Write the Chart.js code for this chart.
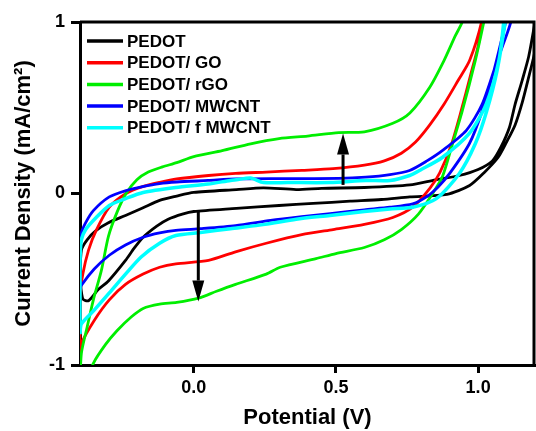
<!DOCTYPE html>
<html>
<head>
<meta charset="utf-8">
<script src="https://cdn.jsdelivr.net/npm/chart.js@4.4.1/dist/chart.umd.min.js"></script>
<style>
  html, body { margin: 0; padding: 0; background: #fff; }
  #wrap { width: 536px; height: 431px; }
</style>
</head>
<body>
<div id="wrap"><canvas id="cvChart" width="536" height="431"></canvas></div>
<script>
// CV loops, [potential (V), current density (mA/cm2)]
// each loop: cathodic branch left->right, then anodic branch back right->left
const pedot = [
  [-0.40,-0.50],[-0.39,-0.615],[-0.37,-0.625],[-0.336,-0.56],[-0.30,-0.51],[-0.24,-0.39],[-0.21,-0.32],
  [-0.178,-0.255],[-0.13,-0.19],[-0.09,-0.15],[-0.04,-0.12],[0.0,-0.105],[0.15,-0.087],[0.30,-0.07],
  [0.42,-0.058],[0.55,-0.045],[0.66,-0.035],[0.76,-0.02],[0.89,-0.005],[0.97,0.047],[1.02,0.12],
  [1.07,0.21],[1.10,0.30],[1.13,0.40],[1.155,0.53],[1.175,0.66],[1.196,0.80],[1.22,1.0],[1.24,1.2],
  [1.22,1.2],[1.20,1.0],[1.178,0.80],[1.155,0.66],[1.13,0.52],[1.11,0.385],[1.08,0.27],[1.05,0.19],
  [1.0,0.14],[0.934,0.105],[0.85,0.08],[0.76,0.05],[0.60,0.035],[0.45,0.03],[0.36,0.023],[0.245,0.033],
  [0.15,0.023],[0.0,0.006],[-0.06,-0.015],[-0.12,-0.04],[-0.18,-0.085],[-0.24,-0.128],[-0.30,-0.17],
  [-0.343,-0.215],[-0.375,-0.27],[-0.395,-0.33],[-0.40,-0.50]
];
const pedotGO = [
  [-0.40,-0.95],[-0.395,-0.875],[-0.35,-0.74],[-0.297,-0.62],[-0.24,-0.53],[-0.178,-0.47],[-0.12,-0.43],
  [-0.063,-0.41],[0.052,-0.39],[0.147,-0.34],[0.255,-0.29],[0.38,-0.24],[0.49,-0.21],[0.60,-0.18],
  [0.70,-0.14],[0.77,-0.08],[0.83,0.03],[0.865,0.12],[0.905,0.28],[0.94,0.48],[0.975,0.70],[1.0,0.86],
  [1.015,1.0],[1.03,1.2],
  [1.012,1.0],[0.97,0.775],[0.93,0.66],[0.88,0.52],[0.83,0.40],[0.78,0.30],[0.73,0.235],[0.67,0.19],
  [0.60,0.165],[0.49,0.145],[0.38,0.135],[0.255,0.125],[0.147,0.117],[0.052,0.105],[-0.06,0.085],
  [-0.12,0.065],[-0.18,0.04],[-0.238,0.0],[-0.297,-0.08],[-0.343,-0.215],[-0.37,-0.33],[-0.39,-0.47],
  [-0.40,-0.60],[-0.40,-0.95]
];
const pedotRGO = [
  [-0.40,-1.3],[-0.37,-1.08],[-0.353,-0.99],[-0.31,-0.88],[-0.27,-0.80],[-0.22,-0.72],[-0.178,-0.67],
  [-0.12,-0.645],[-0.06,-0.635],[0.017,-0.61],[0.08,-0.57],[0.147,-0.53],[0.255,-0.47],[0.304,-0.43],
  [0.43,-0.38],[0.50,-0.35],[0.60,-0.315],[0.67,-0.27],[0.73,-0.21],[0.79,-0.12],
  [0.84,0.0],[0.875,0.10],[0.91,0.29],[0.944,0.48],[0.99,0.775],[1.02,1.0],[1.05,1.25],
  [1.0,1.3],[0.944,1.0],[0.92,0.92],[0.88,0.775],[0.83,0.62],[0.76,0.47],[0.70,0.41],[0.60,0.36],
  [0.51,0.355],[0.40,0.335],[0.30,0.32],[0.20,0.29],[0.10,0.25],[0.0,0.215],[-0.06,0.18],
  [-0.11,0.155],[-0.16,0.125],[-0.20,0.08],[-0.238,0.0],[-0.27,-0.11],[-0.30,-0.25],[-0.325,-0.45],
  [-0.353,-0.62],[-0.375,-0.78],[-0.395,-0.93],[-0.40,-1.1]
];
const pedotMWCNT = [
  [-0.40,-0.56],[-0.395,-0.535],[-0.35,-0.44],[-0.297,-0.36],[-0.24,-0.30],[-0.178,-0.255],[-0.12,-0.23],
  [-0.063,-0.215],[0.024,-0.205],[0.147,-0.187],[0.27,-0.157],[0.38,-0.135],[0.48,-0.117],[0.60,-0.095],
  [0.69,-0.08],[0.77,-0.06],[0.818,-0.02],[0.86,0.04],[0.90,0.117],[0.969,0.29],[1.014,0.48],
  [1.056,0.72],[1.09,0.95],[1.11,1.1],[1.13,1.25],
  [1.14,1.25],[1.115,1.0],[1.067,0.775],[1.014,0.52],[0.958,0.367],[0.874,0.25],[0.82,0.19],
  [0.759,0.134],[0.69,0.11],[0.605,0.095],[0.51,0.088],[0.30,0.087],[0.15,0.085],[0.05,0.076],
  [-0.06,0.067],[-0.12,0.058],[-0.18,0.04],[-0.238,0.017],[-0.297,-0.02],[-0.353,-0.10],[-0.38,-0.17],
  [-0.395,-0.23],[-0.40,-0.35],[-0.40,-0.56]
];
const pedotFMWCNT = [
  [-0.40,-0.82],[-0.395,-0.76],[-0.35,-0.68],[-0.297,-0.58],[-0.24,-0.47],[-0.185,-0.37],[-0.12,-0.29],
  [-0.063,-0.245],[0.024,-0.227],[0.129,-0.205],[0.25,-0.18],[0.36,-0.15],[0.479,-0.128],[0.60,-0.105],
  [0.69,-0.09],[0.77,-0.08],[0.853,-0.03],[0.934,0.117],[0.99,0.29],[1.03,0.48],[1.067,0.72],
  [1.095,1.0],[1.11,1.2],
  [1.10,1.2],[1.09,1.0],[1.073,0.775],[1.028,0.52],[0.969,0.35],[0.874,0.21],[0.80,0.14],[0.759,0.105],
  [0.69,0.076],[0.605,0.076],[0.48,0.064],[0.33,0.064],[0.245,0.064],[0.20,0.09],[0.15,0.08],
  [0.129,0.076],[0.05,0.055],[-0.063,0.035],[-0.178,0.006],[-0.24,-0.03],[-0.297,-0.07],[-0.343,-0.14],
  [-0.38,-0.21],[-0.395,-0.27],[-0.40,-0.40],[-0.40,-0.82]
];

const seriesNames = ["PEDOT", "PEDOT/ GO", "PEDOT/ rGO", "PEDOT/ MWCNT", "PEDOT/ f MWCNT"];
const seriesData = [pedot, pedotGO, pedotRGO, pedotMWCNT, pedotFMWCNT];
const seriesColors = ["#000000", "#ff0000", "#00ee00", "#0000ff", "#00ffff"];

const xTicks = [0.0, 0.5, 1.0];
const xTickLabels = ["0.0", "0.5", "1.0"];
const yTicks = [-1, 0, 1];
const yTickLabels = ["-1", "0", "1"];

// arrows: [potential, start current, tip current]
const arrowUp = [0.525, 0.05, 0.35];
const arrowDown = [0.016, -0.10, -0.63];

const FONT = "'Liberation Sans', Arial, Helvetica, sans-serif";

const frameAndArrows = {
  id: "frameAndArrows",
  afterDatasetsDraw(chart) {
    const { ctx, chartArea: a, scales: { x, y } } = chart;
    ctx.save();
    // top and right frame
    ctx.strokeStyle = "#000";
    ctx.lineWidth = 3;
    ctx.beginPath();
    ctx.moveTo(a.left, a.top);
    ctx.lineTo(a.right - 1, a.top);
    ctx.lineTo(a.right - 1, a.bottom);
    ctx.stroke();

    const arrow = (d) => {
      const px = x.getPixelForValue(d[0]);
      const y0 = y.getPixelForValue(d[1]);
      const y1 = y.getPixelForValue(d[2]);
      const dir = y1 < y0 ? 1 : -1;
      const headLen = 21, headHalf = 6;
      ctx.lineWidth = 3;
      ctx.beginPath();
      ctx.moveTo(px, y0);
      ctx.lineTo(px, y1 + dir * headLen);
      ctx.stroke();
      ctx.beginPath();
      ctx.moveTo(px, y1);
      ctx.lineTo(px - headHalf, y1 + dir * headLen);
      ctx.lineTo(px + headHalf, y1 + dir * headLen);
      ctx.closePath();
      ctx.fillStyle = "#000";
      ctx.fill();
    };
    arrow(arrowUp);
    arrow(arrowDown);

    // legend in the upper-left corner
    ctx.font = "bold 17px " + FONT;
    ctx.textBaseline = "middle";
    ctx.textAlign = "left";
    seriesNames.forEach((name, i) => {
      const ry = a.top + 19 + i * 21.7;
      ctx.strokeStyle = seriesColors[i];
      ctx.lineWidth = 3.5;
      ctx.beginPath();
      ctx.moveTo(a.left + 7, ry);
      ctx.lineTo(a.left + 43, ry);
      ctx.stroke();
      ctx.fillStyle = "#000";
      ctx.fillText(name, a.left + 47, ry + 1);
    });
    ctx.restore();
  }
};

new Chart(document.getElementById("cvChart"), {
  type: "scatter",
  data: {
    datasets: seriesData.map((pts, i) => ({
      label: seriesNames[i],
      data: pts.map(p => ({ x: p[0], y: p[1] })),
      showLine: true,
      borderColor: seriesColors[i],
      borderWidth: i === 4 ? 3.5 : 2.8,
      pointRadius: 0,
      tension: 0.25,
      fill: false,
      order: seriesData.length - i
    }))
  },
  options: {
    responsive: false,
    animation: false,
    layout: { padding: { top: 22, right: 1, left: 0, bottom: 0 } },
    plugins: {
      legend: { display: false },
      tooltip: { enabled: false }
    },
    scales: {
      x: {
        type: "linear",
        min: -0.4,
        max: 1.2,
        afterBuildTicks: s => { s.ticks = xTicks.map(v => ({ value: v })); },
        afterFit: s => { s.height = 66; },
        ticks: {
          callback: (v) => xTickLabels[xTicks.indexOf(v)],
          color: "#000",
          padding: 4,
          font: { family: FONT, size: 18, weight: "bold" }
        },
        grid: { drawOnChartArea: false, tickLength: 8, tickWidth: 3, tickColor: "#000" },
        border: { display: true, width: 3, color: "#000" },
        title: {
          display: true,
          text: "Potential (V)",
          color: "#000",
          padding: { top: 0, bottom: 0 },
          font: { family: FONT, size: 22, weight: "bold" }
        }
      },
      y: {
        type: "linear",
        min: -1,
        max: 1,
        afterBuildTicks: s => { s.ticks = yTicks.map(v => ({ value: v })); },
        afterFit: s => { s.width = 80; },
        ticks: {
          callback: (v) => yTickLabels[yTicks.indexOf(v)],
          color: "#000",
          padding: 6,
          font: { family: FONT, size: 18, weight: "bold" }
        },
        grid: { drawOnChartArea: false, tickLength: 9, tickWidth: 3, tickColor: "#000" },
        border: { display: true, width: 3, color: "#000" },
        title: {
          display: true,
          text: "Current Density (mA/cm²)",
          color: "#000",
          padding: { top: 11, bottom: 0 },
          font: { family: FONT, size: 22, weight: "bold" }
        }
      }
    }
  },
  plugins: [frameAndArrows]
});
</script>
</body>
</html>
